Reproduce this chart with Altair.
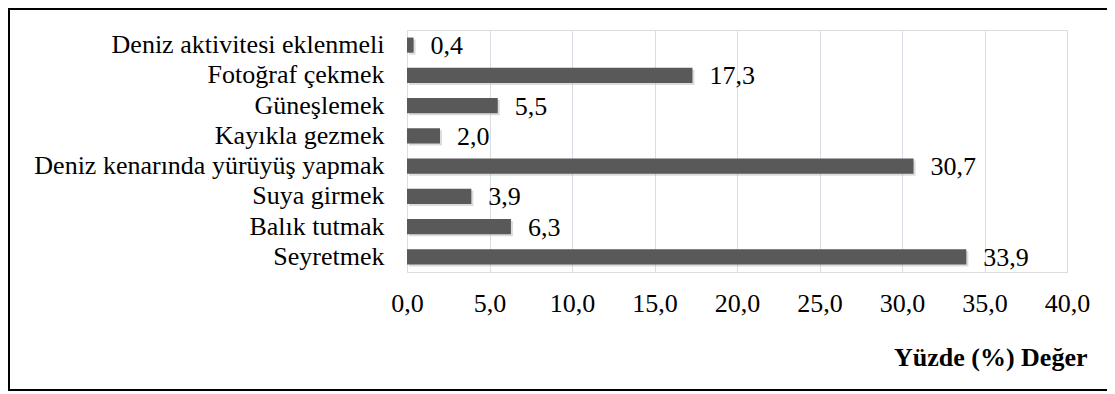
import altair as alt
import pandas as pd

categories = [
    "Deniz aktivitesi eklenmeli",
    "Fotoğraf çekmek",
    "Güneşlemek",
    "Kayıkla gezmek",
    "Deniz kenarında yürüyüş yapmak",
    "Suya girmek",
    "Balık tutmak",
    "Seyretmek",
]
values = [0.4, 17.3, 5.5, 2.0, 30.7, 3.9, 6.3, 33.9]
x_ticks = [0, 5, 10, 15, 20, 25, 30, 35, 40]
x_title = "Yüzde (%) Değer"

df = pd.DataFrame({"cat": categories, "val": values})

FONT = "Liberation Serif"
FS = 26
W, H = 660, 242

y_enc = alt.Y(
    "cat:N",
    sort=categories,
    scale=alt.Scale(paddingInner=0.5, paddingOuter=0.25),
    axis=alt.Axis(
        title=None, ticks=False, domain=False, grid=False,
        labelFont=FONT, labelFontSize=FS, labelColor="black",
        labelPadding=23, labelLimit=500,
    ),
)
x_enc = alt.X(
    "val:Q",
    scale=alt.Scale(domain=[0, 40], nice=False),
    axis=alt.Axis(
        values=x_ticks, title=x_title, ticks=False, domain=False,
        grid=True, gridColor="#d9dde6", gridWidth=1,
        labelFont=FONT, labelFontSize=FS, labelColor="black",
        labelPadding=18, labelFlush=False, labelOverlap=False,
        labelExpr="replace(format(datum.value, '.1f'), '.', ',')",
        titleFont=FONT, titleFontSize=FS, titleFontWeight="bold",
        titleColor="black", titleAlign="right", titleAnchor="end",
        titleBaseline="alphabetic", titleX=680, titleY=93,
    ),
)

base = alt.Chart(df)

shadow = base.mark_bar(color="#9a9a9a", opacity=0.35, xOffset=2, yOffset=2).encode(
    x=x_enc, y=y_enc
)
bars = base.mark_bar(color="#595959").encode(x=x_enc, y=y_enc)
labels = base.transform_calculate(
    txt="replace(format(datum.val, '.1f'), '.', ',')"
).mark_text(
    align="left", baseline="middle", dx=17, dy=1,
    font=FONT, fontSize=FS, color="black",
).encode(x="val:Q", y=alt.Y("cat:N", sort=categories), text="txt:N")

one = alt.Data(values=[{"k": 1}])
left_b = alt.Chart(one).mark_rule(color="black", strokeWidth=2).encode(
    x=alt.value(-398), y=alt.value(-22), y2=alt.value(361)
)
top_b = alt.Chart(one).mark_rule(color="black", strokeWidth=2).encode(
    x=alt.value(-399), x2=alt.value(720), y=alt.value(-21)
)
bot_b = alt.Chart(one).mark_rule(color="black", strokeWidth=2).encode(
    x=alt.value(-399), x2=alt.value(720), y=alt.value(360)
)

chart = alt.layer(shadow, bars, labels, left_b, top_b, bot_b).properties(
    width=W, height=H,
    autosize=alt.AutoSizeParams(type="none"),
    padding={"left": 399, "top": 22, "right": 40, "bottom": 120},
).configure_view(stroke=None).configure(background="white")

chart.save("out.html", embed_options={"renderer": "svg", "actions": False})
